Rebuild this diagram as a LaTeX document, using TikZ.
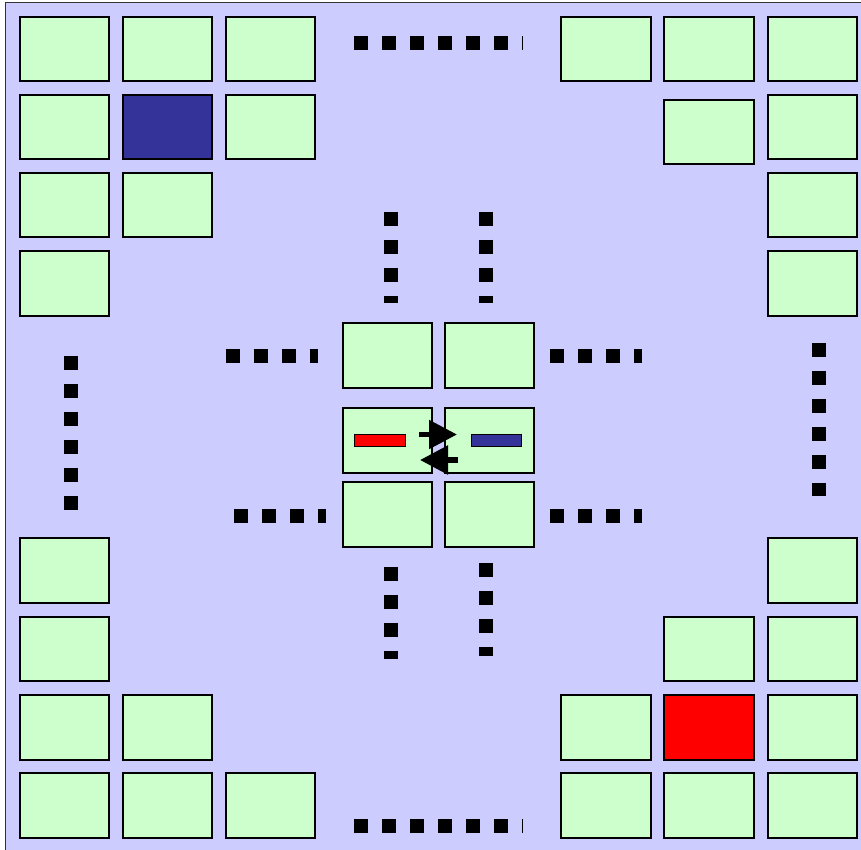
\documentclass[tikz,border=0pt]{standalone}
\usetikzlibrary{arrows.meta}
\definecolor{lav}{HTML}{CCCCFF}
\definecolor{grn}{HTML}{CCFFCC}
\definecolor{dblue}{HTML}{333399}
\definecolor{rd}{HTML}{FF0000}
\tikzset{
  cell/.style={draw=black, line width=1.6pt, fill=grn, minimum width=89.5pt, minimum height=64.5pt, inner sep=0pt, outer sep=0pt},
  bar/.style={draw=black, line width=1.4pt, minimum width=50.5pt, minimum height=11.5pt, inner sep=0pt},
  dotline/.style={line width=14pt, dash pattern=on 14pt off 14pt, black},
  bigarrow/.style={line width=5.4pt, -{Triangle[length=28pt, width=28pt]}}
}
\begin{document}
\begin{tikzpicture}[x=1pt, y=-1pt]
\useasboundingbox (0,0) rectangle (861,849);
\clip (0,0) rectangle (861,849);
\draw[fill=lav, draw=black!80, line width=1.5pt] (5.5,2.7) rectangle (880,870);
% top-left group
\node[cell] (tl11) at (64.5,49) {};
\node[cell] (tl12) at (167.5,49) {};
\node[cell] (tl13) at (270.5,49) {};
\node[cell] (tl21) at (64.5,127) {};
\node[cell, fill=dblue] (tl22) at (167.5,127) {};
\node[cell] (tl23) at (270.5,127) {};
\node[cell] (tl31) at (64.5,205) {};
\node[cell] (tl32) at (167.5,205) {};
\node[cell] (tl41) at (64.5,283.5) {};
% top-right group
\node[cell] (tr11) at (606,49) {};
\node[cell] (tr12) at (709,49) {};
\node[cell] (tr13) at (812.5,49) {};
\node[cell] (tr22) at (709,132) {};
\node[cell] (tr23) at (812.5,127) {};
\node[cell] (tr33) at (812.5,205) {};
\node[cell] (tr43) at (812.5,283.5) {};
% bottom-left group
\node[cell] (bl41) at (64.5,570.5) {};
\node[cell] (bl31) at (64.5,649) {};
\node[cell] (bl21) at (64.5,727.5) {};
\node[cell] (bl22) at (167.5,727.5) {};
\node[cell] (bl11) at (64.5,805.5) {};
\node[cell] (bl12) at (167.5,805.5) {};
\node[cell] (bl13) at (270.5,805.5) {};
% bottom-right group
\node[cell] (br43) at (812.5,570.5) {};
\node[cell] (br32) at (709,649) {};
\node[cell] (br33) at (812.5,649) {};
\node[cell] (br21) at (606,727.5) {};
\node[cell, fill=rd] (br22) at (709,727.5) {};
\node[cell] (br23) at (812.5,727.5) {};
\node[cell] (br11) at (606,805.5) {};
\node[cell] (br12) at (709,805.5) {};
\node[cell] (br13) at (812.5,805.5) {};
% centre
\node[cell] (c11) at (387.5,355.5) {};
\node[cell] (c12) at (489.5,355.5) {};
\node[cell] (c21) at (387.5,440.5) {};
\node[cell] (c22) at (489.5,440.5) {};
\node[cell] (c31) at (387.5,514.5) {};
\node[cell] (c32) at (489.5,514.5) {};
\node[bar, fill=rd] (rbar) at (380,440.5) {};
\node[bar, fill=dblue] (bbar) at (496.5,440.5) {};
% arrows
\coordinate (a1s) at (419,434.5);
\coordinate (a1e) at (457,434.5);
\coordinate (a2s) at (458,460);
\coordinate (a2e) at (420,460);
\draw[bigarrow] (a1s) -- (a1e);
\draw[bigarrow] (a2s) -- (a2e);
% dotted lines
\draw[dotline] (354,42.7) -- (522.5,42.7);
\draw[dotline] (354,825.7) -- (522.5,825.7);
\draw[dotline] (390.5,211.7) -- (390.5,303.3);
\draw[dotline] (486.3,211.7) -- (486.3,303.3);
\draw[dotline] (390.5,567.3) -- (390.5,659.3);
\draw[dotline] (486.3,563.3) -- (486.3,655.7);
\draw[dotline] (225.7,355.7) -- (317.7,355.7);
\draw[dotline] (550.3,355.7) -- (642.3,355.7);
\draw[dotline] (234.3,515.7) -- (326.3,515.7);
\draw[dotline] (550.3,515.7) -- (642.3,515.7);
\draw[dotline] (70.7,355.7) -- (70.7,509.7);
\draw[dotline] (818.7,342.7) -- (818.7,496);
\end{tikzpicture}
\end{document}
